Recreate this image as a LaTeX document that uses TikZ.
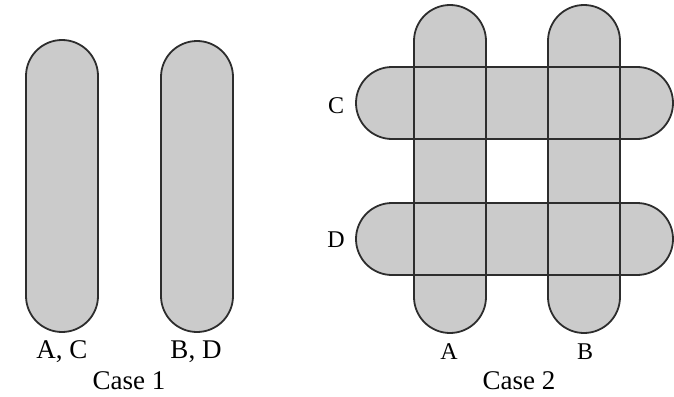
\documentclass[tikz,border=0pt]{standalone}
\usepackage{fontspec}
\setmainfont{Liberation Serif}
\usepackage{tikz}
\definecolor{barfill}{RGB}{203,203,203}
\definecolor{barline}{RGB}{45,45,45}

\begin{document}
\begin{tikzpicture}[
    x=1pt, y=-1pt,
    bar/.style={rounded corners=36pt},
    barbody/.style={bar, fill=barfill},
    baredge/.style={bar, draw=barline, line width=1.8pt},
    lbl/.style={anchor=base, inner sep=0pt, font=\fontsize{27}{30}\selectfont},
    tag/.style={anchor=base, inner sep=0pt, font=\fontsize{24}{28}\selectfont}
]
\useasboundingbox (0,0) rectangle (674,396);

% Case 1
\draw[barbody, baredge] (26,40) rectangle (98,332);
\draw[barbody, baredge] (161,41) rectangle (233,332);
\node[lbl] (ac) at (62,358) {A, C};
\node[lbl] (bd) at (196,358) {B, D};
\node[lbl] (case1) at (129,389) {Case 1};

% Case 2: fill all bars first, then outline them
\foreach \xa/\ya/\xb/\yb in {414/5/486/333, 548/5/620/333, 356/67/673/139, 356/203/673/275}
    \fill[barbody] (\xa,\ya) rectangle (\xb,\yb);
\foreach \xa/\ya/\xb/\yb in {414/5/486/333, 548/5/620/333, 356/67/673/139, 356/203/673/275}
    \draw[baredge] (\xa,\ya) rectangle (\xb,\yb);
\node[tag] (c) at (336,113) {C};
\node[tag] (d) at (336,247) {D};
\node[tag] (a) at (449,359) {A};
\node[tag] (b) at (585,359) {B};
\node[lbl] (case2) at (519,389) {Case 2};

\end{tikzpicture}
\end{document}
